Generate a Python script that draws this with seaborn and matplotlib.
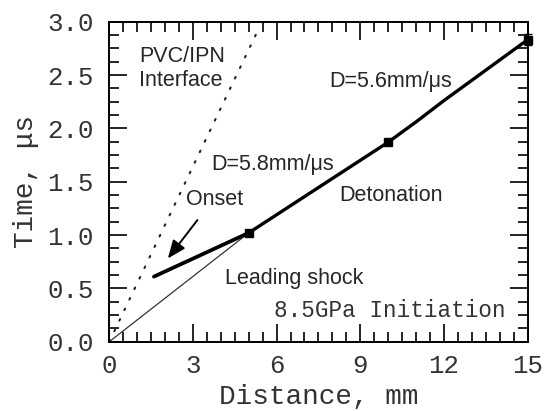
import matplotlib
matplotlib.use("Agg")
import matplotlib.pyplot as plt
import seaborn as sns
import pandas as pd
from matplotlib.ticker import MultipleLocator

# ---- data ----
det_x = [5.0, 6.0, 7.0, 8.0, 9.0, 10.0, 11.0, 12.0, 13.0, 14.0, 15.0]
det_t = [1.02, 1.19, 1.36, 1.53, 1.70, 1.87, 2.06, 2.26, 2.45, 2.64, 2.83]
onset_x = [1.60, 5.0]
onset_t = [0.61, 1.02]
shock_x = [0.0, 5.0]
shock_t = [0.0, 1.02]
iface_x = [0.0, 5.35]
iface_t = [0.0, 2.93]
probe_x = [5.0, 10.0, 15.0]
probe_t = [1.02, 1.87, 2.83]
probe_err = [0.03, 0.03, 0.05]

x_ticks = [0, 3, 6, 9, 12, 15]
y_ticks = [0.0, 0.5, 1.0, 1.5, 2.0, 2.5, 3.0]

sns.set_style("ticks")
plt.rcParams['font.family'] = ['Liberation Mono', 'DejaVu Sans']

fig = plt.figure(figsize=(5.46, 4.11), dpi=100)
ax = fig.add_axes([109.3 / 546, (411 - 341.7) / 411, (527.5 - 109.3) / 546, (341.7 - 21.7) / 411])

det = pd.DataFrame({"x": det_x, "t": det_t})
onset = pd.DataFrame({"x": onset_x, "t": onset_t})
shock = pd.DataFrame({"x": shock_x, "t": shock_t})
iface = pd.DataFrame({"x": iface_x, "t": iface_t})

sns.lineplot(data=iface, x="x", y="t", ax=ax, color="#222222", lw=1.5,
             linestyle=(0, (0.8, 4.8)), dash_capstyle="round")
sns.lineplot(data=shock, x="x", y="t", ax=ax, color="#333333", lw=0.9)
sns.lineplot(data=onset, x="x", y="t", ax=ax, color="black", lw=2.7)
sns.lineplot(data=det, x="x", y="t", ax=ax, color="black", lw=2.4)
ax.errorbar(probe_x, probe_t, yerr=probe_err, fmt="s", color="black", ms=6,
            capsize=3, elinewidth=1.6, clip_on=False, zorder=5)

ax.annotate("", xy=(2.10, 0.78), xytext=(3.16, 1.14),
            arrowprops=dict(arrowstyle="-|>,head_length=1.1,head_width=0.45",
                            color="black", lw=1.4, shrinkA=0, shrinkB=0))

sans = ['Liberation Sans', 'DejaVu Sans']
fs = 15.5
ax.text(1.08, 2.62, "PVC/IPN", family=sans, fontsize=fs, va="baseline")
ax.text(1.08, 2.40, "Interface", family=sans, fontsize=fs, va="baseline")
ax.text(7.88, 2.39, "D=5.6mm/\u03bcs", family=sans, fontsize=fs, va="baseline")
ax.text(3.64, 1.61, "D=5.8mm/\u03bcs", family=sans, fontsize=fs, va="baseline")
ax.text(2.76, 1.28, "Onset", family=sans, fontsize=fs, va="baseline")
ax.text(8.26, 1.32, "Detonation", family=sans, fontsize=fs, va="baseline")
ax.text(4.14, 0.545, "Leading shock", family=sans, fontsize=fs, va="baseline")
ax.text(5.89, 0.23, "8.5GPa Initiation", fontsize=16.3, va="baseline", color="#333333")

ax.set_xlim(0, 15)
ax.set_ylim(0, 3.0)
ax.set_xticks(x_ticks)
ax.set_yticks(y_ticks)
ax.set_xticklabels([str(v) for v in x_ticks])
ax.set_yticklabels([f"{v:.1f}" for v in y_ticks])
ax.xaxis.set_minor_locator(MultipleLocator(0.5))
ax.yaxis.set_minor_locator(MultipleLocator(0.125))
ax.tick_params(which="both", direction="in", top=True, right=True, color="black")
ax.tick_params(which="major", length=13, width=1.2, labelsize=18.5, labelcolor="#333333")
ax.tick_params(axis="y", which="major", pad=11)
ax.tick_params(axis="x", which="major", pad=9)
ax.tick_params(which="minor", length=7, width=1.2)
for s in ax.spines.values():
    s.set_linewidth(1.4)
    s.set_color("black")

ax.set_xlabel("Distance, mm", fontsize=20, labelpad=4, color="#333333")
ax.set_ylabel("Time, \u03bcs", fontsize=20, labelpad=6, color="#333333")

fig.savefig("out.png", dpi=100)
